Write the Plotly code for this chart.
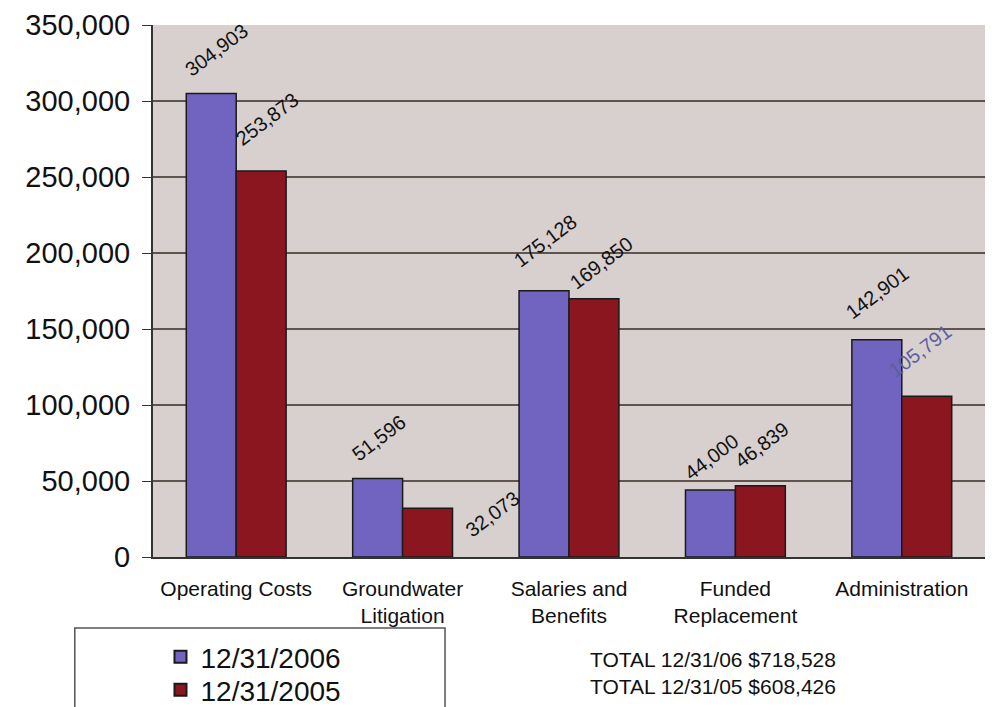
import plotly.graph_objects as go

categories = ["Operating Costs", "Groundwater<br>Litigation", "Salaries and<br>Benefits",
              "Funded<br>Replacement", "Administration"]
series_2006 = [304903, 51596, 175128, 44000, 142901]
series_2005 = [253873, 32073, 169850, 46839, 105791]
name_2006 = "12/31/2006"
name_2005 = "12/31/2005"
totals_text = ["TOTAL 12/31/06 $718,528", "TOTAL 12/31/05 $608,426"]
tick_vals = [0, 50000, 100000, 150000, 200000, 250000, 300000, 350000]

BLUE = "rgb(112,100,192)"
RED = "rgb(140,22,32)"
FONT = "Liberation Sans, Arial, sans-serif"

fig = go.Figure()
fig.add_trace(go.Bar(x=categories, y=series_2006, name=name_2006, legend="legend",
                     marker=dict(color=BLUE, line=dict(color="#1a1a1a", width=1.5))))
fig.add_trace(go.Bar(x=categories, y=series_2005, name=name_2005, legend="legend2",
                     marker=dict(color=RED, line=dict(color="#1a1a1a", width=1.5))))

# label placement (style): (xshift, yshift) per bar
off_2006 = [(5, 44), (1, 41), (1, 50), (1, 33), (0, 47)]
off_2005 = [(6, 52), (65, -6), (7, 36), (1, 41), (-7, 45)]
lab_col_2005 = ["#111", "#111", "#111", "#111", "rgb(90,95,160)"]

for i, c in enumerate(categories):
    fig.add_annotation(x=c, y=series_2006[i], xref="x", yref="y", text=f"{series_2006[i]:,}",
                       showarrow=False, textangle=-37, xshift=-25 + off_2006[i][0],
                       yshift=off_2006[i][1], font=dict(family=FONT, size=20, color="#111"))
    fig.add_annotation(x=c, y=series_2005[i], xref="x", yref="y", text=f"{series_2005[i]:,}",
                       showarrow=False, textangle=-37, xshift=25 + off_2005[i][0],
                       yshift=off_2005[i][1], font=dict(family=FONT, size=20, color=lab_col_2005[i]))

fig.add_annotation(x=0.523, y=-0.168, xref="paper", yref="paper", xanchor="left", yanchor="top",
                   text="<br>".join(totals_text), showarrow=False, align="left",
                   font=dict(family=FONT, size=21, color="#111"))

# legend box
fig.add_shape(type="rect", xref="paper", yref="paper", x0=-0.094, x1=0.351, y0=-0.32, y1=-0.1335,
              line=dict(color="#555", width=1.5), fillcolor="white")

leg_common = dict(xanchor="left", yanchor="middle", bgcolor="rgba(0,0,0,0)",
                  font=dict(family=FONT, size=28, color="#111"), itemsizing="constant")

fig.update_layout(
    width=992, height=707,
    margin=dict(l=153, r=7, t=25, b=150, autoexpand=False),
    paper_bgcolor="white",
    plot_bgcolor="rgb(216,207,207)",
    barmode="group", bargap=0.4, bargroupgap=0,
    font=dict(family=FONT, color="#111"),
    showlegend=True,
    legend=dict(x=0.009, y=-0.188, **leg_common),
    legend2=dict(x=0.009, y=-0.25, **leg_common),
    xaxis=dict(showgrid=False, showline=True, linecolor="#333", linewidth=1.5,
               tickfont=dict(family=FONT, size=21, color="#111"), ticks="", ticklabelstandoff=12),
    yaxis=dict(range=[0, 350000], tickvals=tick_vals, tickformat=",",
               showgrid=True, gridcolor="rgb(95,85,78)", gridwidth=1.5,
               showline=True, linecolor="#333", linewidth=2,
               ticks="outside", ticklen=9, tickcolor="#333", ticklabelstandoff=6,
               tickfont=dict(family=FONT, size=29, color="#111"), zeroline=False),
)

fig.write_html("out.html", config={"displayModeBar": False},
               post_script="document.body.style.margin='0';document.body.style.overflow='hidden';")
